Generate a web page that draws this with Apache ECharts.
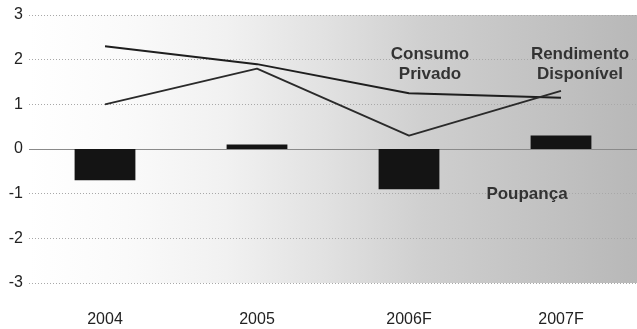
<!DOCTYPE html>
<html>
<head>
<meta charset="utf-8">
<script src="https://cdn.jsdelivr.net/npm/echarts@6/dist/echarts.min.js"></script>
<style>
  html, body { margin: 0; padding: 0; background: #fff; }
  #chart { width: 637px; height: 329px; }
</style>
</head>
<body>
<div id="chart"></div>
<script>
// Categories and series values (% change)
var years = ['2004', '2005', '2006F', '2007F'];
var poupanca = [-0.7, 0.1, -0.9, 0.3];
var consumoPrivado = [2.3, 1.9, 1.25, 1.15];
var rendimentoDisponivel = [1.0, 1.8, 0.3, 1.3];
var yTicks = { min: -3, max: 3, step: 1 };

var chart = echarts.init(document.getElementById('chart'), null, { renderer: 'canvas' });

var labelFont = 'Liberation Sans, Arial, sans-serif';

chart.setOption({
  animation: false,
  backgroundColor: '#ffffff',
  grid: {
    left: 29,
    right: -4,
    top: 15,
    bottom: 46,
    show: true,
    borderWidth: 0,
    // plot area shading: white on the left fading to mid grey on the right
    backgroundColor: new echarts.graphic.LinearGradient(0, 0, 1, 0, [
      { offset: 0.0, color: '#ffffff' },
      { offset: 0.16, color: '#fafafa' },
      { offset: 0.325, color: '#f1f1f1' },
      { offset: 0.49, color: '#e1e1e1' },
      { offset: 0.65, color: '#cfcfcf' },
      { offset: 0.815, color: '#c4c4c4' },
      { offset: 1.0, color: '#b8b8b8' }
    ])
  },
  xAxis: {
    type: 'category',
    data: years,
    axisLine: { show: false, onZero: false },
    axisTick: { show: false },
    axisLabel: {
      color: '#222',
      fontFamily: labelFont,
      fontSize: 16,
      margin: 29
    },
    splitLine: { show: false }
  },
  yAxis: {
    type: 'value',
    min: yTicks.min,
    max: yTicks.max,
    interval: yTicks.step,
    axisLine: { show: false },
    axisTick: { show: false },
    axisLabel: {
      color: '#222',
      fontFamily: labelFont,
      fontSize: 16,
      margin: 6
    },
    splitLine: {
      show: true,
      lineStyle: { color: '#a8a8a8', type: [1, 2], width: 1 }
    }
  },
  series: [
    {
      name: 'Poupança',
      type: 'bar',
      data: poupanca,
      barWidth: '40%',
      itemStyle: { color: '#141414' },
      z: 2,
      markLine: {
        silent: true,
        symbol: 'none',
        label: { show: false },
        lineStyle: { color: '#8a8a8a', type: 'solid', width: 1.2 },
        data: [{ yAxis: 0 }],
        z: 1
      }
    },
    {
      name: 'Consumo Privado',
      type: 'line',
      data: consumoPrivado,
      showSymbol: false,
      symbol: 'none',
      lineStyle: { color: '#1e1e1e', width: 2 },
      z: 3
    },
    {
      name: 'Rendimento Disponível',
      type: 'line',
      data: rendimentoDisponivel,
      showSymbol: false,
      symbol: 'none',
      lineStyle: { color: '#2a2a2a', width: 1.8 },
      z: 3
    }
  ],
  graphic: [
    {
      type: 'text', z: 10,
      x: 430, y: 64,
      style: {
        text: 'Consumo\nPrivado', fill: '#333', font: 'bold 17px ' + labelFont,
        textAlign: 'center', textVerticalAlign: 'middle', lineHeight: 20
      }
    },
    {
      type: 'text', z: 10,
      x: 580, y: 64,
      style: {
        text: 'Rendimento\nDisponível', fill: '#333', font: 'bold 17px ' + labelFont,
        textAlign: 'center', textVerticalAlign: 'middle', lineHeight: 20
      }
    },
    {
      type: 'text', z: 10,
      x: 527, y: 194,
      style: {
        text: 'Poupança', fill: '#333', font: 'bold 17px ' + labelFont,
        textAlign: 'center', textVerticalAlign: 'middle'
      }
    }
  ]
});
</script>
</body>
</html>
